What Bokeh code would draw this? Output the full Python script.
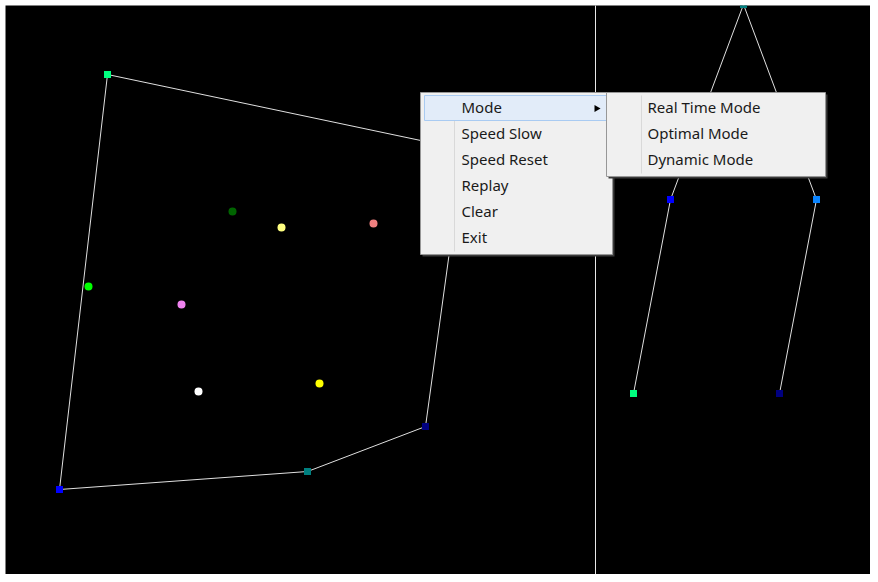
import math
from bokeh.plotting import figure
from bokeh.models import Range1d
from bokeh.core.properties import value
from bokeh.embed import file_html
from bokeh.resources import INLINE

# ---- data (screen-pixel coordinates) ----
poly_x = [107, 463, 425, 307, 59, 107]
poly_y = [74, 149, 426, 471, 489, 74]
vert_x = [107, 425, 307, 59]
vert_y = [74, 426, 471, 489]
vert_colors = ["#00FF7F", "#000080", "#008080", "#0000FF"]

tree_edges_x = [[743, 670], [743, 816], [670, 633], [816, 779]]
tree_edges_y = [[4, 199], [4, 199], [199, 393], [199, 393]]
tree_x = [743, 670, 816, 633, 779]
tree_y = [4, 199, 199, 393, 393]
tree_colors = ["#008080", "#0000FF", "#0A84FF", "#00FF7F", "#000080"]

pts_x = [232, 281, 373, 88, 181, 198, 319]
pts_y = [211, 227, 223, 286, 304, 391, 383]
pts_colors = ["#006400", "#FFFF80", "#F08080", "#00FF00", "#EE82EE", "#FFFFFF", "#FFFF00"]

divider_x = 595

menu_items = ["Mode", "Speed Slow", "Speed Reset", "Replay", "Clear", "Exit"]
sub_items = ["Real Time Mode", "Optimal Mode", "Dynamic Mode"]

# ---- menu geometry ----
menu_left, menu_right, menu_top = 420, 612, 92
sub_left, sub_right = 606, 825
item_h = 26
pad = 3
gutter = 34
text_shift = -2
menu_bottom = menu_top + 2 * pad + item_h * len(menu_items)
sub_bottom = menu_top + 2 * pad + item_h * len(sub_items)
menu_y = [menu_top + pad + item_h * (i + 0.5) + text_shift for i in range(len(menu_items))]
sub_y = [menu_top + pad + item_h * (i + 0.5) + text_shift for i in range(len(sub_items))]

p = figure(width=870, height=574, x_range=Range1d(5, 870), y_range=Range1d(574, 5),
           output_backend="svg", toolbar_location=None,
           min_border_left=5, min_border_top=5, min_border_right=0, min_border_bottom=0)
p.axis.visible = False
p.grid.visible = False
p.outline_line_color = None
p.background_fill_color = "#000000"
p.border_fill_color = "#FFFFFF"

# divider
p.segment(x0=[divider_x], y0=[0], x1=[divider_x], y1=[600], line_color="#E8E8E8", line_width=1)

# polygon
p.line(poly_x, poly_y, line_color="#E0E0E0", line_width=1)
p.scatter(vert_x, vert_y, marker="square", size=7, fill_color=vert_colors, line_color=None)

# tree
p.multi_line(tree_edges_x, tree_edges_y, line_color="#E0E0E0", line_width=1)
p.scatter(tree_x, tree_y, marker="square", size=7, fill_color=tree_colors, line_color=None)

# points
p.scatter(pts_x, pts_y, marker="circle", size=8, fill_color=pts_colors, line_color=None)

font = value("Noto Sans")

# main menu (with a faint drop shadow)
p.quad(left=[menu_left + 2], right=[menu_right + 2], top=[menu_top + 2], bottom=[menu_bottom + 2],
       fill_color="#3A3A3A", line_color=None)
p.quad(left=[menu_left], right=[menu_right], top=[menu_top], bottom=[menu_bottom],
       fill_color="#F0F0F0", line_color="#979797", line_width=1)
p.segment(x0=[menu_left + gutter], y0=[menu_top + pad], x1=[menu_left + gutter],
          y1=[menu_bottom - pad], line_color="#D9D9D9", line_width=1)
p.quad(left=[menu_left + 4], right=[sub_left + 1], top=[menu_top + pad],
       bottom=[menu_top + pad + item_h - 1], fill_color="#E2ECF9", line_color="#A9CBF2",
       line_width=1)
p.text(x=[menu_left + gutter + 7] * len(menu_items), y=menu_y, text=menu_items,
       text_font=font, text_font_size="15px", text_baseline="middle", text_align="left",
       text_color="#1A1A1A")
p.scatter([sub_left - 10], [menu_top + pad + item_h * 0.5], marker="triangle", size=7,
          angle=-math.pi / 2, fill_color="#000000", line_color=None)

# submenu
p.quad(left=[sub_left + 2], right=[sub_right + 2], top=[menu_top + 2], bottom=[sub_bottom + 2],
       fill_color="#3A3A3A", line_color=None)
p.quad(left=[sub_left], right=[sub_right], top=[menu_top], bottom=[sub_bottom],
       fill_color="#F0F0F0", line_color="#979797", line_width=1)
p.segment(x0=[sub_left + gutter + 1], y0=[menu_top + pad], x1=[sub_left + gutter + 1],
          y1=[sub_bottom - pad], line_color="#D9D9D9", line_width=1)
p.text(x=[sub_left + gutter + 7] * len(sub_items), y=sub_y, text=sub_items,
       text_font=font, text_font_size="15px", text_baseline="middle", text_align="left",
       text_color="#1A1A1A")

open("out.html", "w").write(file_html(p, INLINE))
